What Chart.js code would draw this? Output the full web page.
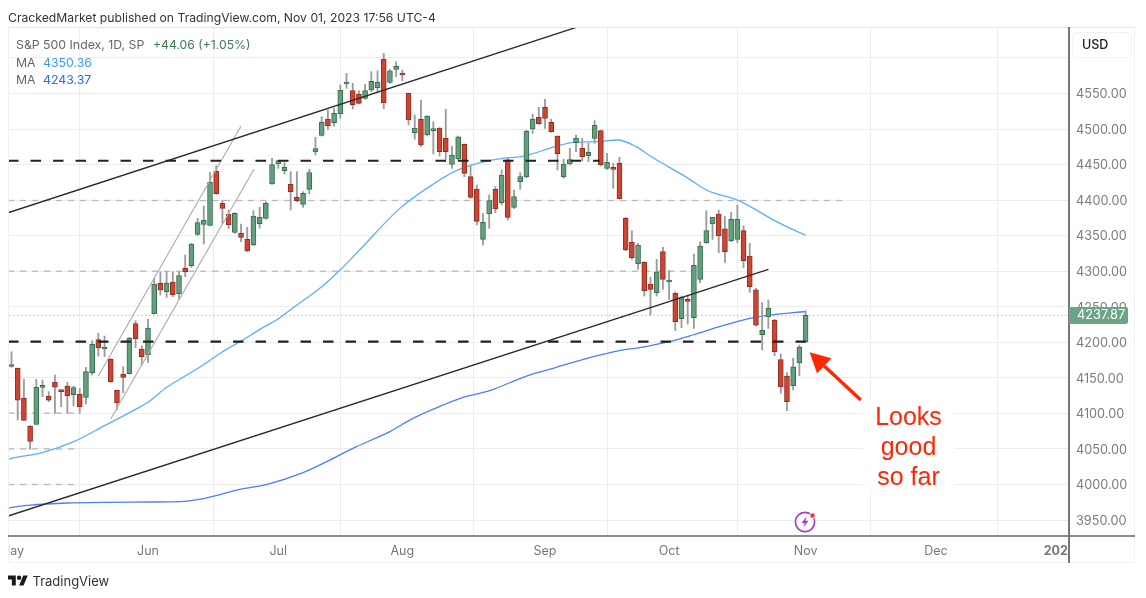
<!DOCTYPE html>
<html>
<head>
<meta charset="utf-8">
<script src="https://cdn.jsdelivr.net/npm/chart.js@4/dist/chart.umd.min.js"></script>
<style>
html,body{margin:0;padding:0;background:#fff;width:1146px;height:598px;overflow:hidden}
#wrap{position:relative;width:1146px;height:598px;font-family:Inter,"Liberation Sans",sans-serif}
canvas{position:absolute;left:0;top:0}
.t{position:absolute;white-space:nowrap;line-height:1}
.box{position:absolute}
</style>
</head>
<body>
<div id="wrap">
<canvas id="c" width="1146" height="598"></canvas>
<div class="box" style="left:0;top:537px;width:8px;height:26px;background:#fff"></div>
<div class="box" style="left:1069px;top:537px;width:66px;height:26px;background:#fff"></div>
<div class="box" style="left:8px;top:27px;width:1127px;height:536px;border:1px solid #f0f0f0;box-sizing:border-box;border-top-color:#e4e4e4"></div>
<div class="box" style="left:8px;top:535px;width:1127px;height:1.5px;background:#8a8a8a"></div>
<div class="box" style="left:1068.4px;top:27px;width:1.3px;height:536px;background:#777"></div>
<div class="t" id="hdr" style="left:8px;top:11.5px;font-size:12.2px;color:#333">CrackedMarket published on TradingView.com, Nov 01, 2023 17:56 UTC-4</div>
<div class="t" style="left:16px;top:39px;font-size:12.3px;color:#666">S&amp;P 500 Index, 1D, SP</div>
<div class="t" style="left:153px;top:39px;font-size:12.2px;color:#3d7a58">+44.06 (+1.05%)</div>
<div class="t" style="left:16px;top:57px;font-size:12.3px;color:#666">MA</div>
<div class="t" style="left:43px;top:57px;font-size:12.3px;color:#3f9cf2">4350.36</div>
<div class="t" style="left:16px;top:74px;font-size:12.3px;color:#666">MA</div>
<div class="t" style="left:43px;top:74px;font-size:12.3px;color:#2f6bf0">4243.37</div>
<div class="box" style="left:1072px;top:32px;width:60px;height:26px;background:#fff;border:1px solid #f2f2f2;border-radius:5px;box-sizing:border-box"></div>
<div class="t" style="left:1082px;top:38.5px;font-size:12.5px;font-weight:500;color:#222">USD</div>
<div class="box" style="left:1069px;top:307px;width:59px;height:17px;background:#6ca585;border-radius:0 2px 2px 0"></div>
<div class="t" style="left:1077px;top:309px;font-size:12.8px;color:#fff">4237.87</div>
<div class="box" style="left:863px;top:400px;width:91px;height:90px;background:#fff"></div>
<div class="t" style="left:863px;width:91px;text-align:center;top:401px;font:25px/30px 'Liberation Sans',Arial,sans-serif;color:#ff2600;white-space:normal">Looks<br>good<br>so far</div>
<svg class="box" style="left:794px;top:510px" width="24" height="24" viewBox="0 0 24 24">
<circle cx="11" cy="12" r="9.6" fill="#fff" stroke="#a63fc0" stroke-width="1.7"/>
<path d="M12.6 6.5 L7.5 13 L10.6 13 L9.2 17.5 L14.6 10.8 L11.4 10.8 Z" fill="#a63fc0"/>
<circle cx="18.5" cy="5.6" r="3.2" fill="#fff"/>
<circle cx="18.5" cy="5.6" r="2.3" fill="#f2364f"/>
</svg>
<svg class="box" style="left:8px;top:575px" width="20" height="11" viewBox="0 4 36 18"><path d="M14 22H7V11H0V4h14v18zM28 22h-8l7.5-18h8L28 22z" fill="#1a1a1a"/><circle cx="20" cy="8" r="4" fill="#1a1a1a"/></svg>
<div class="t" style="left:32.5px;top:575px;font-size:13px;color:#333">TradingView</div>
</div>
<script>
// Daily candles, May 1 - Nov 1 2023 (bar index 0..128)
const opens = [4166,4163.4,4121.7,4082.3,4084.6,4136.7,4124.5,4143.7,4132.4,4138.5,4126.3,4127.3,4122.6,4157.3,4203.7,4190.6,4176,4132.4,4155.4,4155.9,4226.2,4190.6,4182.6,4240.3,4283,4271.2,4284.8,4268.4,4304,4307.8,4351.9,4366,4364.5,4440.5,4395.5,4380,4354.7,4353.8,4344.9,4336.9,4366.9,4374.4,4422.7,4450.8,4441.4,4422.2,4403.9,4394,4415.2,4467.7,4491.1,4514.1,4509,4521.6,4563.3,4553.9,4549.3,4543.2,4554.9,4558.2,4598,4565.7,4584,4578.8,4550.2,4494.9,4513.6,4491.6,4497.7,4501.4,4486.9,4450.3,4457.8,4478.5,4433,4415.6,4344.9,4380.5,4415.2,4396.4,4456.5,4389.9,4426,4432.5,4500,4516.5,4530.5,4509.4,4490.2,4433,4450.8,4480.8,4472.9,4462.5,4486.9,4497.7,4444.7,4445.2,4452.2,4374.4,4341.1,4310.1,4312.5,4282,4269.8,4327.5,4284.8,4268.9,4233.2,4259.5,4234.6,4288.6,4340.1,4366.4,4380.4,4359.8,4342.5,4344.8,4357,4321.4,4274,4210.7,4235.6,4231.4,4175.6,4152.6,4139,4170.9,4200.9];
const highs = [4186.8,4164,4147.9,4083,4148,4147,4130.6,4154,4133,4143.7,4138.5,4135,4164.8,4202.3,4212.6,4208.8,4177,4133,4165.7,4207,4230.4,4194.8,4232.3,4290,4299.3,4299.3,4299.3,4299.3,4322.8,4339,4374.4,4391.7,4439,4448.5,4400,4386,4382.4,4366.4,4361.7,4385.2,4389.9,4397.9,4458.8,4456,4452.7,4440,4440,4411.9,4443.3,4488.3,4517.4,4526.8,4529,4562,4578.3,4564.3,4553.9,4562.8,4580.7,4582,4606.4,4584,4594.7,4583,4550.5,4519.7,4540.8,4519,4510,4502,4527.7,4476.1,4490.2,4479,4448,4421.3,4381.4,4407.2,4419,4442.4,4458.8,4414,4438.6,4498.6,4521.1,4530.5,4541.8,4514,4490.5,4457.4,4472.9,4491.6,4486.9,4479.9,4511.8,4498.6,4465.8,4451.8,4460.2,4375.8,4357,4339.2,4313.4,4291.4,4316.7,4333.6,4300.7,4271,4265.1,4265,4324.2,4341.5,4385.1,4376,4386,4376.7,4382.8,4393.1,4364,4339.2,4275.9,4255.7,4259.5,4232.3,4183.6,4157.3,4177.5,4196.2,4244.5];
const lows = [4165,4090.7,4090,4049.5,4084,4123.5,4116.5,4100,4109.5,4100,4110.4,4100,4113.2,4154,4180.7,4179.8,4143.7,4104.8,4129,4155.4,4192.4,4168,4171.8,4240,4266.5,4263.2,4264.2,4260.9,4292.3,4305.5,4350,4338.3,4363.6,4408,4367.4,4360,4353.3,4341.6,4327.5,4336,4360.3,4373,4422.2,4444.7,4436.7,4386.1,4397.9,4389.9,4408.6,4463.5,4490.2,4499.6,4504,4515,4557.2,4528.2,4535.2,4541.8,4552.5,4551,4528.6,4564,4573.6,4568,4505.7,4485.5,4475.2,4490.2,4464.9,4462,4457.4,4444.7,4456.4,4433,4402.5,4365,4336.9,4360.3,4382.4,4393.2,4372,4388,4415.2,4431.6,4494,4506.6,4501,4495.4,4442.4,4430.7,4449.4,4468.2,4455,4454.1,4479.9,4448,4443.3,4416.6,4401.6,4328.9,4316.7,4302.6,4265.1,4238.4,4265.1,4274.5,4260.4,4216.4,4220.6,4225.7,4219.6,4283.9,4339.2,4344.8,4326,4312.5,4341.5,4340.1,4305,4270.3,4222.9,4189.2,4219.6,4181.2,4128.2,4103.9,4132.9,4153.1,4199.5];
const closes = [4167,4118.8,4090.2,4060.7,4136.7,4138.5,4118.8,4137,4130.6,4124.5,4136.2,4109.5,4158.7,4197.1,4192,4192.4,4144.6,4114.6,4150.7,4205.6,4205.1,4179.8,4220.1,4282,4273.5,4283.4,4267,4293.7,4298.9,4338.3,4368.3,4371.6,4425,4409.1,4388.5,4365.5,4381.4,4347.7,4328.5,4377.7,4375.8,4395.5,4449.9,4455.5,4446.1,4411.9,4399.2,4409.5,4438.6,4472.4,4509.4,4504.7,4522,4554.4,4565.7,4534.3,4536.1,4553.9,4567,4566.1,4537,4582,4588.6,4576,4512.7,4501.4,4477.5,4518.3,4500,4468.2,4468.2,4463.5,4489.2,4437.7,4403.9,4370,4368.8,4399.2,4387.5,4434.9,4375.8,4404.9,4433,4496.8,4514.1,4507.6,4515,4496.3,4465.4,4450.8,4456.9,4486.9,4461.1,4467.2,4505.2,4449.9,4453.2,4443.3,4402.1,4329.8,4319,4336.8,4272.6,4274.5,4299.3,4288.6,4287.6,4229,4263.2,4257.6,4308.2,4335.4,4357,4375.8,4349.5,4327.5,4372.9,4372.9,4314.8,4278.2,4224.3,4216.8,4247.8,4186.8,4137.1,4116.5,4165.7,4193.4,4237.87];

// Moving averages: bar index / value
const ma50Index = [-1,0,5,10,15,20,22,25,27.1,30.9,33.9,36.8,40.8,42.7,44.9,50,53,56.1,62.6,68,71.7,75.5,79.2,82.2,87.6,90.6,94.3,97.7,100.7,102.9,106,109,112,117.4,123.3,128];
const ma50Values = [4034,4036.8,4044.8,4060.2,4082.8,4105.7,4115.6,4136.7,4148,4168.1,4186,4200.9,4222,4231.4,4245.5,4278,4302,4329.8,4388.4,4422.7,4441.4,4452.7,4458.8,4461.1,4475.2,4481.3,4482.2,4484.6,4475.2,4462.5,4446.4,4431,4414.2,4398.7,4369.7,4350.4];
const ma200Index = [-1,3,9,22,27.1,31.2,36.8,41.4,47,50.8,55.6,61,64.7,69.6,72.8,77.1,83,87.8,93.2,98,101.8,106,109.8,114.1,119,122.2,128];
const ma200Values = [3966.5,3971,3974,3975.4,3975.9,3980.6,3993.2,4000.7,4016.7,4032.2,4053.3,4074.4,4093.1,4111.9,4122.6,4132,4152.6,4164.8,4178.4,4188.3,4193.4,4200.9,4210.3,4222,4233.7,4238.4,4243.37];

// Drawn trend lines: [startIndex, startValue, endIndex, endValue]
const upperTrend = [-0.56,4382.3,91.4,4644];
const lowerTrend = [-0.56,3955.7,122,4302.7];
const channelA = [14,4152.6,37,4504.2];
const channelB = [16,4092.1,39.1,4443.7];
// Horizontal drawn levels: [startIndex, endIndex, value]
const heavyLevels = [[-0.56,94.8,4455.4],[-0.56,128,4201]];
const lightLevels = [[-0.56,134.5,4399.5],[-0.56,110,4300],[-0.56,11,4100.5],[-0.56,11,4050],[-0.56,11,4000]];
const lastPrice = 4237.87;

// Axes
const monthTicks = [0,22,43,63,86,106,128,149,169];
const monthLabels = ['May','Jun','Jul','Aug','Sep','Oct','Nov','Dec','2024'];
const priceTicks = [3950,4000,4050,4100,4150,4200,4250,4300,4350,4400,4450,4500,4550,4600];
const hiddenPriceTick = 4600;

// Annotation arrow in data units: tail and tip
const arrowTail = [136.9,4118.9];
const arrowTip = [128.65,4186];

const barIdx = opens.map((_, i) => i);
const RED = '#cf4331', RED_B = '#8c3024', GREEN = '#639f7f', GREEN_B = '#356f50';
const isUp = i => closes[i] >= opens[i];

const seg = (a, color, width, dash, order) => ({
  type:'line', order, data:[{x:a[0],y:a[1]},{x:a[2],y:a[3]}],
  borderColor:color, borderWidth:width, borderDash:dash||[], pointRadius:0, tension:0, fill:false
});
const level = (l, color, width, dash, order) => seg([l[0],l[2],l[1],l[2]], color, width, dash, order);

const datasets = [
  { type:'line', order:9, data:[{x:-1,y:lastPrice},{x:171,y:lastPrice}], borderColor:'#6ca585', borderWidth:1, borderDash:[1,3], pointRadius:0 },
  ...lightLevels.map(l => level(l,'#b9b9b9',1.3,[6,6],8)),
  { type:'line', order:7, data:ma50Index.map((x,i)=>({x,y:ma50Values[i]})), borderColor:'#5cb0f7', borderWidth:1.3, pointRadius:0, cubicInterpolationMode:'monotone' },
  { type:'line', order:7, data:ma200Index.map((x,i)=>({x,y:ma200Values[i]})), borderColor:'#4a80f5', borderWidth:1.3, pointRadius:0, cubicInterpolationMode:'monotone' },
  { type:'bar', order:5, grouped:false, barThickness:1.2, data:barIdx.map(i=>({x:i,y:[lows[i],highs[i]]})), backgroundColor:'#9c9c9c', borderWidth:0 },
  { type:'bar', order:4, grouped:false, barThickness:5, minBarLength:2, data:barIdx.map(i=>({x:i,y:[opens[i],closes[i]]})),
    backgroundColor:barIdx.map(i=>isUp(i)?GREEN:RED), borderColor:barIdx.map(i=>isUp(i)?GREEN_B:RED_B), borderWidth:1, borderSkipped:false },
  seg(channelA,'#aeaeae',1.2,null,3),
  seg(channelB,'#aeaeae',1.2,null,3),
  seg(upperTrend,'#2a2a2a',1.4,null,2),
  seg(lowerTrend,'#2a2a2a',1.4,null,2),
  ...heavyLevels.map(l => level(l,'#222',2.2,[10.5,12],1))
];

const arrowPlugin = {
  id:'arrow',
  afterDatasetsDraw(chart){
    const {ctx, scales:{x,y}} = chart;
    const tx = x.getPixelForValue(arrowTip[0]), ty = y.getPixelForValue(arrowTip[1]);
    const fx = x.getPixelForValue(arrowTail[0]), fy = y.getPixelForValue(arrowTail[1]);
    const len = Math.hypot(fx-tx, fy-ty), dx=(fx-tx)/len, dy=(fy-ty)/len;
    const L=20, W=10.5, bx=tx+dx*L, by=ty+dy*L;
    ctx.save();
    ctx.strokeStyle = ctx.fillStyle = '#ff2600';
    ctx.lineWidth = 3.4;
    ctx.beginPath(); ctx.moveTo(bx,by); ctx.lineTo(fx,fy); ctx.stroke();
    ctx.beginPath(); ctx.moveTo(tx,ty); ctx.lineTo(bx-dy*W,by+dx*W); ctx.lineTo(bx+dy*W,by-dx*W); ctx.closePath(); ctx.fill();
    ctx.restore();
  }
};

new Chart(document.getElementById('c'), {
  data:{datasets},
  plugins:[arrowPlugin],
  options:{
    responsive:false, animation:false,
    layout:{padding:{left:8,right:11,top:27,bottom:35}},
    plugins:{legend:{display:false},tooltip:{enabled:false},title:{display:false}},
    scales:{
      x:{
        type:'linear', min:-0.564, max:170.3, offset:false,
        grid:{color:'#ededed',lineWidth:1,drawTicks:false},
        border:{display:false},
        afterBuildTicks(s){ s.ticks = monthTicks.map(value=>({value})); },
        afterFit(s){ s.height = 28; s.paddingLeft = 0; s.paddingRight = 0; },
        ticks:{
          autoSkip:false, maxRotation:0, minRotation:0, padding:9, color:'#777',
          font:c=>({family:'Inter',size:12.5,weight:(c.tick&&c.tick.value===169)?'bold':'normal'}),
          callback:(v)=>{ const k=monthTicks.indexOf(v); return k<0?'':monthLabels[k]; }
        }
      },
      y:{
        type:'linear', position:'right', min:3929, max:4643.5,
        grid:{color:'#ededed',lineWidth:1,drawTicks:false},
        border:{display:false},
        afterBuildTicks(s){ s.ticks = priceTicks.map(value=>({value})); },
        afterFit(s){ s.width = 67; s.paddingTop = 0; s.paddingBottom = 0; },
        ticks:{
          padding:8, color:'#7c7c7c', font:{family:'Inter',size:12.7}, labelOffset:1,
          callback:v=> v===hiddenPriceTick ? '' : v.toFixed(2)
        }
      }
    }
  }
});
</script>
</body>
</html>
